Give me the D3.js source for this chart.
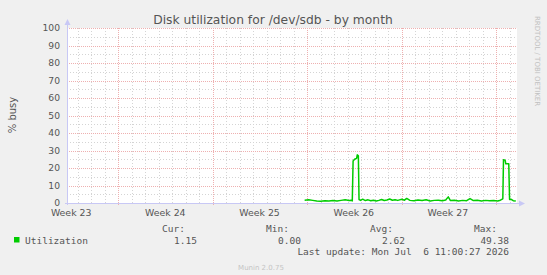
<!DOCTYPE html>
<html><head><meta charset="utf-8">
<script src="https://cdn.jsdelivr.net/npm/d3@7"></script>
<style>
html,body{margin:0;padding:0;background:#f0f0f0;}
svg{display:block;}
</style></head><body>
<svg id="c" width="547" height="275"></svg>
<script>
// ---- data ----
const title = "Disk utilization for /dev/sdb - by month";
const yLabel = "% busy";
const weekLabels = ["Week 23", "Week 24", "Week 25", "Week 26", "Week 27"];
const weekLabelDays = [0.31, 7.28, 14.26, 21.24, 28.21];   // label centres (days from graph start)
const weekStartDays = [3.78, 10.78, 17.78, 24.78, 31.78];  // week boundaries (days from graph start)
const totalDays = 33.33;
const yTicks = [0, 10, 20, 30, 40, 50, 60, 70, 80, 90, 100];
const seriesName = "Utilization";
const days = [17.6, 17.9, 18.2, 18.5, 18.8, 19.1, 19.4, 19.7, 20.0, 20.3, 20.6, 20.9, 21.05, 21.13,
  21.19, 21.3, 21.45, 21.5, 21.58, 21.63, 21.75, 21.9, 22.1, 22.3, 22.5, 22.7, 22.9, 23.1, 23.3, 23.5,
  23.7, 23.9, 24.1, 24.3, 24.5, 24.8, 25.0, 25.16, 25.4, 25.7, 26.0, 26.3, 26.6, 26.9, 27.2, 27.5,
  27.8, 28.05, 28.24, 28.4, 28.7, 29.0, 29.3, 29.6, 29.85, 30.1, 30.4, 30.7, 31.0, 31.3, 31.6, 31.9,
  32.1, 32.28, 32.33, 32.45, 32.5, 32.72, 32.78, 32.9, 33.05, 33.24];
const values = [1.6, 1.8, 1.5, 1.2, 1.0, 1.3, 1.1, 1.4, 1.2, 1.5, 1.8, 1.4, 1.6, 1.2,
  24, 25, 25.5, 27.5, 27, 2.0, 1.5, 2.2, 1.4, 1.8, 1.3, 1.6, 1.2, 1.5, 2.0, 1.4,
  1.7, 2.3, 1.6, 1.9, 1.5, 2.1, 1.6, 2.6, 1.5, 1.3, 1.7, 1.4, 1.8, 1.2, 1.5, 1.6,
  1.3, 1.7, 3.5, 1.4, 1.6, 1.2, 1.5, 1.3, 2.5, 1.4, 1.6, 1.2, 1.5, 1.3, 1.4, 1.2,
  1.6, 2.4, 24.7, 24.5, 22.4, 22.4, 2.0, 2.1, 1.3, 1.1];
const statLabels = ["Cur:", "Min:", "Avg:", "Max:"];
const statValues = ["1.15", "0.00", "2.62", "49.38"];
const lastUpdate = "Last update: Mon Jul  6 11:00:27 2026";
const footer = "Munin 2.0.75";
const sideText = "RRDTOOL / TOBI OETIKER";

// ---- layout ----
const svg = d3.select("#c");
const L = 67, R = 517, T = 28, B = 203;
const x = d3.scaleLinear().domain([0, totalDays]).range([L, R]);
const y = d3.scaleLinear().domain([0, 100]).range([B, T]);
const sans = "'DejaVu Sans', sans-serif";
const mono = "'DejaVu Sans Mono', monospace";
const textCol = "#555";

svg.append("rect").attr("width", 547).attr("height", 275).attr("fill", "#f0f0f0");
svg.append("rect").attr("x", L).attr("y", T).attr("width", R - L).attr("height", B - T).attr("fill", "#fff");

// minor grid
const g = svg.append("g").attr("shape-rendering", "crispEdges");
const minorY = d3.range(5, 100, 10);
g.selectAll(".my").data(minorY).join("line")
  .attr("x1", L).attr("x2", R).attr("y1", d => Math.round(y(d)) + 0.5).attr("y2", d => Math.round(y(d)) + 0.5)
  .attr("stroke", "#d4d4d4").attr("stroke-dasharray", "1,2");
const dayLines = d3.range(weekStartDays[0] - 3, totalDays, 1)
  .filter(d => d > 0.1 && !weekStartDays.some(w => Math.abs(w - d) < 0.01));
g.selectAll(".mx").data(dayLines).join("line")
  .attr("y1", T).attr("y2", B).attr("x1", d => Math.round(x(d)) + 0.5).attr("x2", d => Math.round(x(d)) + 0.5)
  .attr("stroke", "#d4d4d4").attr("stroke-dasharray", "1,2");
// major grid
g.selectAll(".My").data(yTicks.filter(d => d > 0)).join("line")
  .attr("x1", L).attr("x2", R).attr("y1", d => Math.round(y(d)) + 0.5).attr("y2", d => Math.round(y(d)) + 0.5)
  .attr("stroke", "#eeb0b0").attr("stroke-dasharray", "1,1");
g.selectAll(".Mx").data(weekStartDays).join("line")
  .attr("y1", T).attr("y2", B + 2).attr("x1", d => Math.round(x(d)) + 0.5).attr("x2", d => Math.round(x(d)) + 0.5)
  .attr("stroke", "#eeb0b0").attr("stroke-dasharray", "1,1");

// y axis labels
svg.selectAll(".yl").data(yTicks).join("text")
  .attr("x", 60).attr("y", d => y(d) + 3.3).attr("text-anchor", "end")
  .attr("font-family", sans).attr("font-size", 9.2).attr("fill", textCol).text(d => d);
// x axis labels
svg.selectAll(".xl").data(weekLabels).join("text")
  .attr("x", (d, i) => x(weekLabelDays[i])).attr("y", 216).attr("text-anchor", "middle")
  .attr("font-family", sans).attr("font-size", 9.4).attr("fill", textCol).text(d => d);

// axes with arrows
const axCol = "#c8c8f5";
svg.append("line").attr("x1", L + 0.5).attr("x2", L + 0.5).attr("y1", B + 2).attr("y2", T - 4).attr("stroke", axCol);
svg.append("line").attr("x1", L - 2).attr("x2", R + 3).attr("y1", B + 0.5).attr("y2", B + 0.5).attr("stroke", axCol);
svg.append("path").attr("d", `M${L - 2.5},${T - 3} L${L + 3.5},${T - 3} L${L + 0.5},${T - 9} Z`).attr("fill", axCol);
svg.append("path").attr("d", `M${R + 2},${B - 2.5} L${R + 2},${B + 3.5} L${R + 8},${B + 0.5} Z`).attr("fill", axCol);

// data line
const line = d3.line().x((d, i) => x(days[i])).y(d => y(d));
svg.append("path").datum(values).attr("d", line).attr("fill", "none")
  .attr("stroke", "#00cc00").attr("stroke-width", 1.5).attr("stroke-linejoin", "round");

// title
svg.append("text").attr("x", 273).attr("y", 23.5).attr("text-anchor", "middle")
  .attr("font-family", sans).attr("font-size", 12.3).attr("fill", textCol).text(title);
// y label
svg.append("text").attr("transform", "translate(16,115) rotate(-90)").attr("text-anchor", "middle")
  .attr("font-family", sans).attr("font-size", 10).attr("fill", textCol).text(yLabel);
// side text
svg.append("text").attr("transform", "translate(535,16) rotate(90)").attr("text-anchor", "start")
  .attr("font-family", sans).attr("font-size", 7).attr("fill", "#c0c0c0").text(sideText);

// legend
svg.append("rect").attr("x", 14).attr("y", 237).attr("width", 5.5).attr("height", 5.5).attr("fill", "#00cc00");
svg.append("text").attr("x", 25).attr("y", 243.5).attr("font-family", mono).attr("font-size", 9.5)
  .attr("fill", textCol).text(seriesName);
const labelRight = [185, 289, 393, 497];
const valRight = [197, 301, 405, 509];
svg.selectAll(".sl").data(statLabels).join("text")
  .attr("x", (d, i) => labelRight[i]).attr("y", 232).attr("text-anchor", "end")
  .attr("font-family", mono).attr("font-size", 9.5).attr("fill", textCol).text(d => d);
svg.selectAll(".sv").data(statValues).join("text")
  .attr("x", (d, i) => valRight[i]).attr("y", 243.5).attr("text-anchor", "end")
  .attr("font-family", mono).attr("font-size", 9.5).attr("fill", textCol).text(d => d);
svg.append("text").attr("x", 509).attr("y", 255).attr("text-anchor", "end")
  .attr("font-family", mono).attr("font-size", 9.5).attr("fill", textCol)
  .style("white-space", "pre").text(lastUpdate);
svg.append("text").attr("x", 261).attr("y", 270).attr("text-anchor", "middle")
  .attr("font-family", sans).attr("font-size", 7).attr("fill", "#c4c4c4").text(footer);
</script></body></html>
